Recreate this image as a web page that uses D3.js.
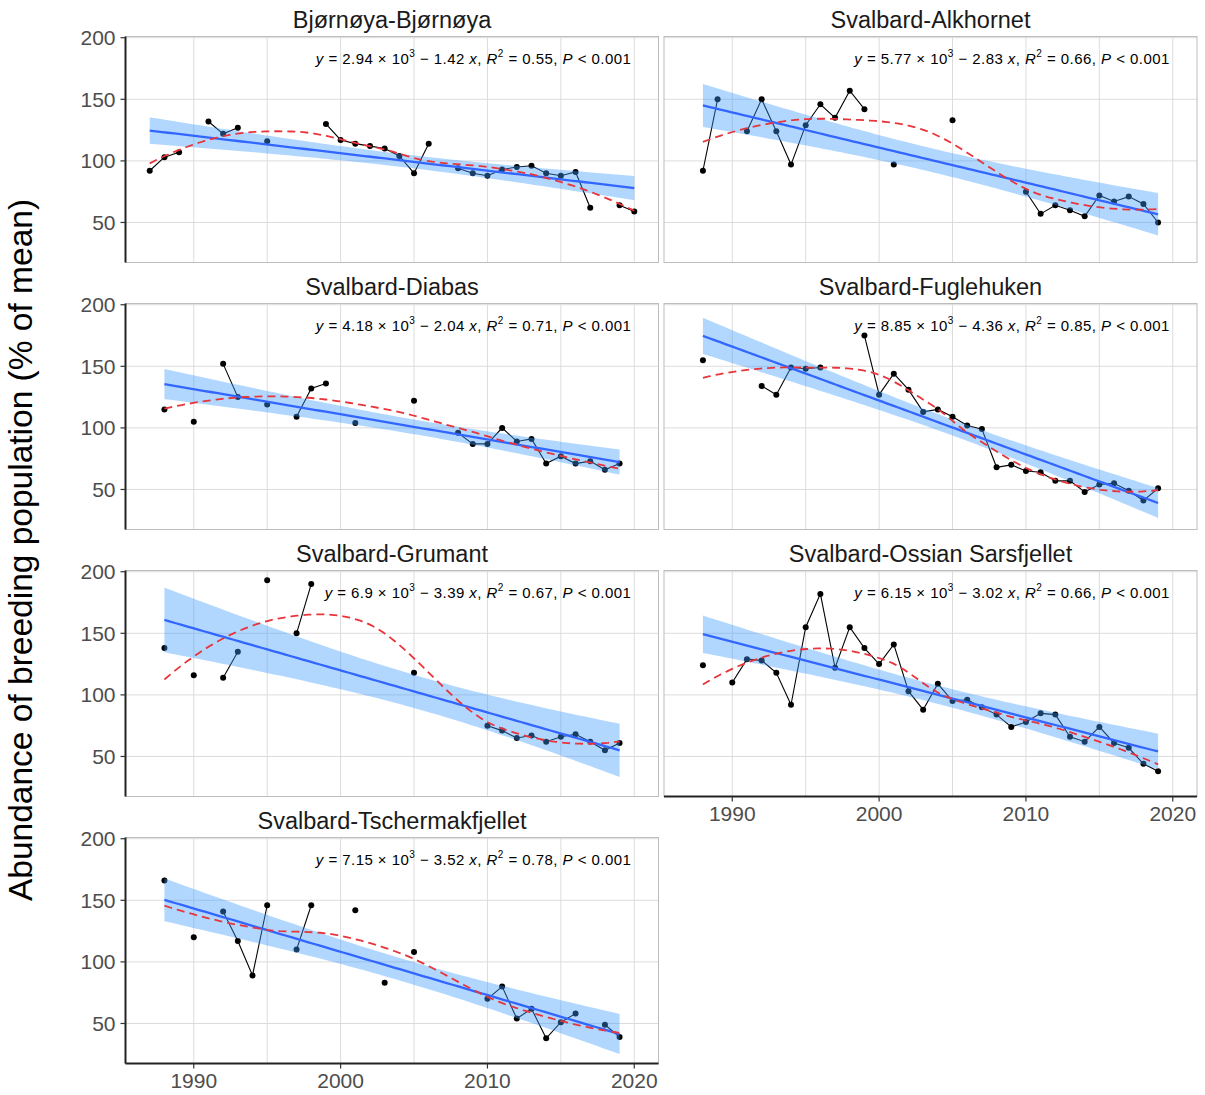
<!DOCTYPE html>
<html>
<head>
<meta charset="utf-8">
<script src="https://cdn.jsdelivr.net/npm/d3@7"></script>
<style>
body { margin: 0; background: #ffffff; }
svg { display: block; font-family: "Liberation Sans", Arial, Helvetica, sans-serif; }
</style>
</head>
<body>
<svg id="chart" width="1205" height="1095"></svg>
<script>
// ---------------- DATA ----------------
const years = [1987,1988,1989,1990,1991,1992,1993,1994,1995,1996,1997,1998,1999,2000,2001,2002,2003,2004,2005,2006,2007,2008,2009,2010,2011,2012,2013,2014,2015,2016,2017,2018,2019,2020];

const sites = ["Bjørnøya-Bjørnøya","Svalbard-Alkhornet","Svalbard-Diabas","Svalbard-Fuglehuken","Svalbard-Grumant","Svalbard-Ossian Sarsfjellet","Svalbard-Tschermakfjellet"];

// values per year (null = not surveyed), aligned with `years`
const bjornoya =        [92,103,107,null,132,122,127,null,116,null,null,null,130,117,114,112,110,104,90,114,null,94,90,88,93,95,96,90,88,91,62,null,64,59];
const alkhornet =       [null,92,150,null,124,150,124,97,129,146,135,157,142,null,97,null,null,null,133,null,null,null,null,75,57,64,60,55,72,67,71,65,50,null];
const diabas =          [null,115,null,105,null,152,125,null,119,null,109,132,136,null,104,null,null,null,122,null,null,96,87,87,100,89,91,71,77,71,73,66,71,null];
const fuglehuken =      [null,155,null,null,null,134,127,149,148,149,null,null,175,127,144,131,113,115,109,102,99,68,70,65,64,57,57,48,54,55,49,41,51,null];
const grumant =         [null,138,null,116,null,114,135,null,193,null,150,190,null,null,null,null,null,null,118,null,null,null,null,75,71,65,67,62,66,68,62,55,61,null];
const ossian =          [null,124,null,110,129,128,118,92,155,182,122,155,138,125,141,103,88,109,95,96,90,84,74,78,85,84,66,62,74,61,57,44,38,null];
const tschermakfjellet =[null,166,null,120,null,141,117,89,146,null,110,146,null,null,142,null,83,null,108,null,null,null,null,70,80,54,62,38,51,58,null,49,39,null];

const seriesValues = [bjornoya, alkhornet, diabas, fuglehuken, grumant, ossian, tschermakfjellet];

// regression labels
const eqIntercepts = ["2.94","5.77","4.18","8.85","6.9","6.15","7.15"];
const eqSlopes     = ["1.42","2.83","2.04","4.36","3.39","3.02","3.52"];
const eqR2         = ["0.55","0.66","0.71","0.85","0.67","0.66","0.78"];

const yTicks = [50,100,150,200];
const xGrid = [1990,1995,2000,2005,2010,2015,2020];
const xTicks = [1990,2000,2010,2020];

// ---------------- LAYOUT ----------------
const svg = d3.select("#chart");
const panelW = 533, panelH = 226;
const colX = [125.5, 664];
const rowY0 = 36.5, rowPitch = 267;

const x = d3.scaleLinear().domain([1985.35, 2021.65]).range([0, panelW]);
const y = d3.scaleLinear().domain([17.5, 201]).range([panelH, 0]);

// ---------- helpers ----------
function tQuantile975(nu) {
  const z = 1.959963985;
  const g1 = (Math.pow(z,3)+z)/4;
  const g2 = (5*Math.pow(z,5)+16*Math.pow(z,3)+3*z)/96;
  const g3 = (3*Math.pow(z,7)+19*Math.pow(z,5)+17*Math.pow(z,3)-15*z)/384;
  const g4 = (79*Math.pow(z,9)+776*Math.pow(z,7)+1482*Math.pow(z,5)-1920*Math.pow(z,3)-945*z)/92160;
  return z + g1/nu + g2/(nu*nu) + g3/Math.pow(nu,3) + g4/Math.pow(nu,4);
}

function linFit(pts, xs) {
  const n = pts.length;
  const mx = d3.mean(pts, d => d.x), my = d3.mean(pts, d => d.y);
  let sxx = 0, sxy = 0;
  pts.forEach(d => { sxx += (d.x-mx)*(d.x-mx); sxy += (d.x-mx)*(d.y-my); });
  const b = sxy/sxx, a = my - b*mx;
  let sse = 0;
  pts.forEach(d => { const r = d.y - (a + b*d.x); sse += r*r; });
  const s = Math.sqrt(sse/(n-2));
  const t = tQuantile975(n-2);
  return xs.map(xv => {
    const fit = a + b*xv;
    const se = s*Math.sqrt(1/n + (xv-mx)*(xv-mx)/sxx);
    return {x: xv, fit: fit, lo: fit - t*se, hi: fit + t*se};
  });
}

function solve(A, bv) {
  const m = bv.length;
  const M = A.map((r,i) => r.concat([bv[i]]));
  for (let c = 0; c < m; c++) {
    let p = c;
    for (let r = c+1; r < m; r++) if (Math.abs(M[r][c]) > Math.abs(M[p][c])) p = r;
    [M[c], M[p]] = [M[p], M[c]];
    for (let r = 0; r < m; r++) {
      if (r === c) continue;
      const f = M[r][c]/M[c][c];
      for (let k = c; k <= m; k++) M[r][k] -= f*M[c][k];
    }
  }
  return M.map((r,i) => r[m]/r[i]);
}

// local quadratic fit at x0 (tricube weights): returns [value, slope]
function localFit(pts, x0, q) {
  const d = pts.map(p => Math.abs(p.x - x0));
  const h = d.slice().sort((a,b) => a-b)[q-1];
  const S = [[0,0,0],[0,0,0],[0,0,0]], B = [0,0,0];
  pts.forEach((p,i) => {
    const u = d[i]/h;
    if (u >= 1) return;
    const w = Math.pow(1 - u*u*u, 3);
    const dx = p.x - x0;
    const v = [1, dx, dx*dx];
    for (let r = 0; r < 3; r++) {
      for (let c = 0; c < 3; c++) S[r][c] += w*v[r]*v[c];
      B[r] += w*v[r]*p.y;
    }
  });
  const coef = solve(S, B);
  return [coef[0], coef[1]];
}

// loess (span 0.75, degree 2) with kd-tree vertices + cubic Hermite interpolation
function loess(pts, xs, span) {
  const n = pts.length;
  const q = Math.floor(n*span);
  const fc = Math.floor(n*span*0.2);
  const sx = pts.map(p => p.x).sort((a,b) => a-b);
  const mu = 0.005*(sx[n-1]-sx[0]);
  const cells = [];
  (function build(lo, hi, vlo, vhi) {
    if (hi - lo + 1 <= fc) { cells.push([vlo, vhi]); return; }
    const m = Math.floor((lo + hi + 2)/2) - 1;
    const t = (sx[m] + sx[m+1])/2;
    if (t <= vlo || t >= vhi) { cells.push([vlo, vhi]); return; }
    build(lo, m, vlo, t);
    build(m+1, hi, t, vhi);
  })(0, n-1, sx[0]-mu, sx[n-1]+mu);
  const cache = new Map();
  const fitAt = v => { if (!cache.has(v)) cache.set(v, localFit(pts, v, q)); return cache.get(v); };
  return xs.map(x0 => {
    const c = cells.find(cl => x0 >= cl[0] && x0 <= cl[1]) || cells[cells.length-1];
    const [g0, s0] = fitAt(c[0]), [g1, s1] = fitAt(c[1]);
    const h = c[1] - c[0], u = (x0 - c[0])/h;
    const phi0 = (1-u)*(1-u)*(1+2*u), phi1 = u*u*(3-2*u);
    const psi0 = u*(1-u)*(1-u), psi1 = -u*u*(1-u);
    return {x: x0, y: phi0*g0 + phi1*g1 + (psi0*s0 + psi1*s1)*h};
  });
}

// ---------------- Y TITLE ----------------
svg.append("text")
  .attr("transform", `translate(32,${rowY0 + (3*rowPitch + panelH)/2}) rotate(-90)`)
  .attr("text-anchor", "middle")
  .attr("font-size", 33.5)
  .attr("fill", "#000")
  .text("Abundance of breeding population (% of mean)");

// ---------------- PANELS ----------------
seriesValues.forEach((vals, i) => {
  const col = i % 2, row = Math.floor(i/2);
  const g = svg.append("g").attr("transform", `translate(${colX[col]},${rowY0 + row*rowPitch})`);

  const data = years.map((yr, k) => ({x: yr, y: vals[k]}));
  const pts = data.filter(d => d.y !== null);

  // title
  g.append("text")
    .attr("x", panelW/2).attr("y", -9)
    .attr("text-anchor", "middle")
    .attr("font-size", 23.5)
    .attr("fill", "#1a1a1a")
    .text(sites[i]);

  // background + grid
  g.append("rect").attr("width", panelW).attr("height", panelH).attr("fill", "#fff");
  g.selectAll(".vg").data(xGrid).enter().append("line")
    .attr("x1", d => x(d)).attr("x2", d => x(d))
    .attr("y1", 0).attr("y2", panelH)
    .attr("stroke", "#dcdcdc").attr("stroke-width", 1);
  g.selectAll(".hg").data(yTicks).enter().append("line")
    .attr("x1", 0).attr("x2", panelW)
    .attr("y1", d => y(d)).attr("y2", d => y(d))
    .attr("stroke", "#dcdcdc").attr("stroke-width", 1);

  // observations: lines (broken at missing years) + points
  const line = d3.line().defined(d => d.y !== null).x(d => x(d.x)).y(d => y(d.y));
  g.append("path").datum(data).attr("d", line)
    .attr("fill", "none").attr("stroke", "#000").attr("stroke-width", 1.1);
  g.selectAll(".pt").data(pts).enter().append("circle")
    .attr("cx", d => x(d.x)).attr("cy", d => y(d.y)).attr("r", 3)
    .attr("fill", "#000");

  // linear model + CI
  const xmin = d3.min(pts, d => d.x), xmax = d3.max(pts, d => d.x);
  const grid = d3.range(80).map(k => xmin + (xmax - xmin)*k/79);
  const lm = linFit(pts, grid);
  g.append("path").datum(lm)
    .attr("d", d3.area().x(d => x(d.x)).y0(d => y(d.lo)).y1(d => y(d.hi)))
    .attr("fill", "#3d9bff").attr("fill-opacity", 0.4);
  g.append("path").datum(lm)
    .attr("d", d3.line().x(d => x(d.x)).y(d => y(d.fit)))
    .attr("fill", "none").attr("stroke", "#3366ff").attr("stroke-width", 2.3);

  // loess smooth
  const sm = loess(pts, grid, 0.75);
  g.append("path").datum(sm)
    .attr("d", d3.line().x(d => x(d.x)).y(d => y(d.y)))
    .attr("fill", "none").attr("stroke", "#e8353b").attr("stroke-width", 1.8)
    .attr("stroke-dasharray", "8,5");

  // panel border
  g.append("rect").attr("width", panelW).attr("height", panelH)
    .attr("fill", "none").attr("stroke", "#bdbdbd").attr("stroke-width", 1);

  // equation label
  const eq = g.append("text")
    .attr("x", x(2020) - 3).attr("y", 27)
    .attr("text-anchor", "end")
    .attr("font-size", 15)
    .attr("letter-spacing", 0.45)
    .attr("fill", "#000");
  eq.append("tspan").attr("font-style", "italic").text("y");
  eq.append("tspan").text(` = ${eqIntercepts[i]} \u00d7 10`);
  eq.append("tspan").attr("font-size", 10).attr("dy", -7).text("3");
  eq.append("tspan").attr("dy", 7).text(` \u2212 ${eqSlopes[i]} `);
  eq.append("tspan").attr("font-style", "italic").text("x");
  eq.append("tspan").text(", ");
  eq.append("tspan").attr("font-style", "italic").text("R");
  eq.append("tspan").attr("font-size", 10).attr("dy", -7).text("2");
  eq.append("tspan").attr("dy", 7).text(` = ${eqR2[i]}, `);
  eq.append("tspan").attr("font-style", "italic").text("P");
  eq.append("tspan").text(" < 0.001");

  // left axis
  if (col === 0) {
    const ax = g.append("g").attr("class", "yaxis");
    ax.append("line").attr("x1", 0).attr("x2", 0).attr("y1", 0).attr("y2", panelH)
      .attr("stroke", "#222").attr("stroke-width", 2);
    ax.selectAll(".tk").data(yTicks).enter().append("line")
      .attr("x1", -5).attr("x2", 0).attr("y1", d => y(d)).attr("y2", d => y(d))
      .attr("stroke", "#333").attr("stroke-width", 1.2);
    ax.selectAll(".tl").data(yTicks).enter().append("text")
      .attr("x", -10).attr("y", d => y(d)).attr("dy", "0.36em")
      .attr("text-anchor", "end").attr("font-size", 21).attr("fill", "#4d4d4d")
      .text(d => d);
  }
  // bottom axis
  if (i >= seriesValues.length - 2) {
    const bx = g.append("g").attr("class", "xaxis");
    bx.append("line").attr("x1", 0).attr("x2", panelW).attr("y1", panelH).attr("y2", panelH)
      .attr("stroke", "#222").attr("stroke-width", 2);
    bx.selectAll(".tk").data(xTicks).enter().append("line")
      .attr("x1", d => x(d)).attr("x2", d => x(d)).attr("y1", panelH).attr("y2", panelH + 5)
      .attr("stroke", "#333").attr("stroke-width", 1.2);
    bx.selectAll(".tl").data(xTicks).enter().append("text")
      .attr("x", d => x(d)).attr("y", panelH + 24)
      .attr("text-anchor", "middle").attr("font-size", 21).attr("fill", "#4d4d4d")
      .text(d => d);
  }
});
</script>
</body>
</html>
